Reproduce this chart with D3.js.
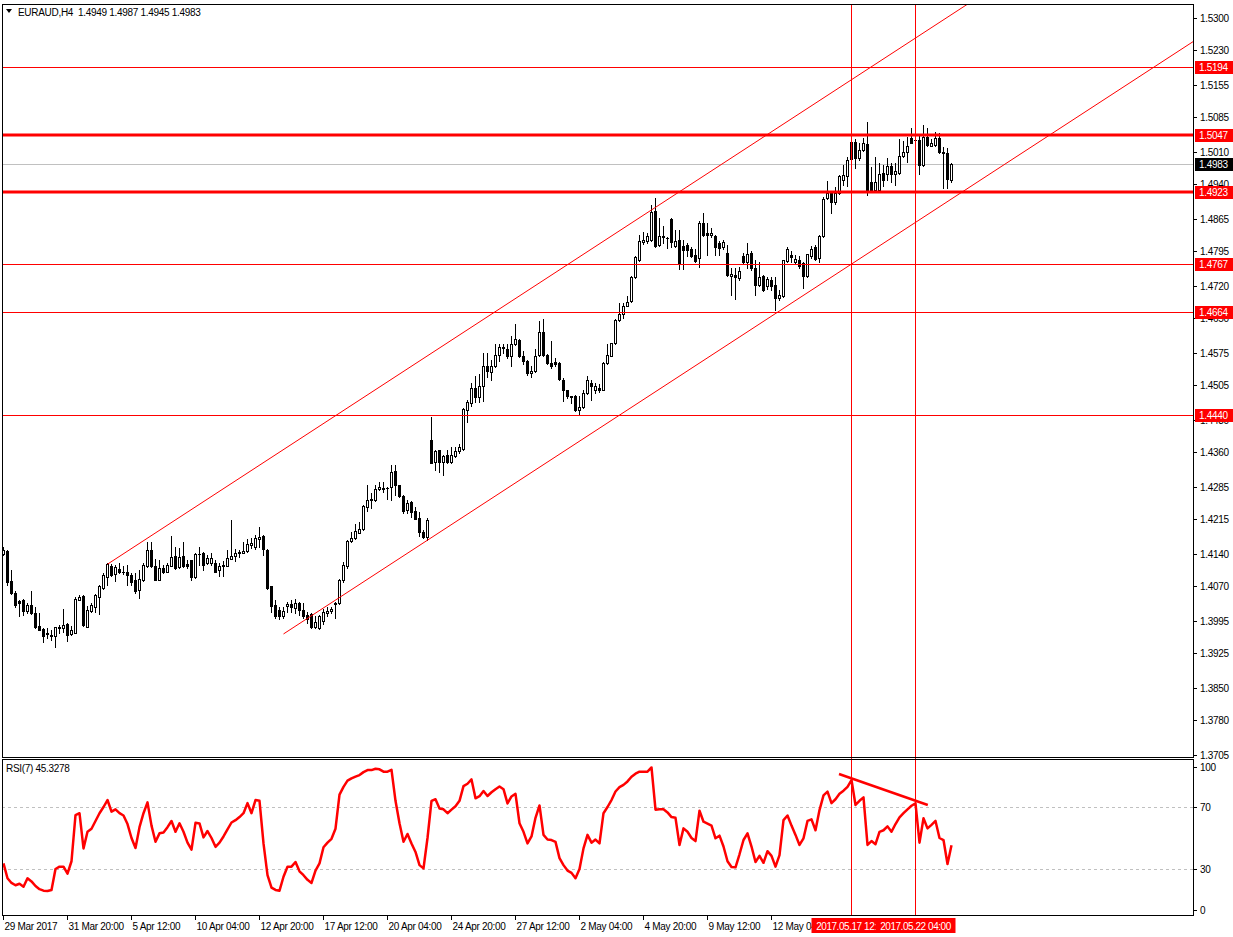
<!DOCTYPE html>
<html><head><meta charset="utf-8">
<script src="https://cdn.jsdelivr.net/npm/d3@7"></script>
<style>
body{margin:0;background:#fff;}
svg{display:block;}
text{font-family:Tahoma,"Liberation Sans",Arial,sans-serif;font-size:10px;white-space:pre;letter-spacing:-0.3px;}
text.tag{letter-spacing:-0.45px;}
</style>
</head><body>
<svg id="c" width="1233" height="937"></svg>
<script>
const symbolTitle = "EURAUD,H4  1.4949 1.4987 1.4945 1.4983";
const rsiTitle = "RSI(7) 45.3278";

const opens = [
1.4140,1.4147,1.4081,1.4055,1.4039,1.4040,1.4016,1.4030,1.4012,1.3985,
1.3977,1.3969,1.3965,1.3962,1.3980,1.3980,1.3989,1.3967,1.3970,1.4041,
1.4050,1.3983,1.4016,1.4025,1.4048,1.4066,1.4091,1.4115,1.4096,1.4108,
1.4100,1.4102,1.4095,1.4084,1.4063,1.4084,1.4113,1.4149,1.4115,1.4084,
1.4109,1.4102,1.4114,1.4136,1.4111,1.4136,1.4119,1.4127,1.4090,1.4139,
1.4143,1.4120,1.4120,1.4121,1.4106,1.4113,1.4115,1.4129,1.4136,1.4142,
1.4143,1.4147,1.4160,1.4155,1.4172,1.4179,1.4149,1.4070,1.4030,1.4019,
1.4005,1.4028,1.4032,1.4023,1.4033,1.4019,1.4008,1.4010,1.3983,1.3979,
1.3994,1.4012,1.4017,1.4035,1.4033,1.4084,1.4113,1.4168,1.4174,1.4186,
1.4194,1.4242,1.4257,1.4257,1.4280,1.4282,1.4282,1.4284,1.4319,1.4289,
1.4265,1.4235,1.4253,1.4233,1.4217,1.4188,1.4176,1.4386,1.4340,1.4365,
1.4340,1.4354,1.4340,1.4353,1.4363,1.4368,1.4451,1.4467,1.4500,1.4480,
1.4503,1.4547,1.4533,1.4546,1.4571,1.4586,1.4583,1.4568,1.4595,1.4604,
1.4569,1.4557,1.4531,1.4535,1.4570,1.4620,1.4570,1.4553,1.4555,1.4553,
1.4517,1.4495,1.4481,1.4482,1.4451,1.4458,1.4488,1.4511,1.4494,1.4499,
1.4495,1.4553,1.4569,1.4596,1.4647,1.4660,1.4677,1.4688,1.4739,1.4777,
1.4815,1.4818,1.4820,1.4883,1.4809,1.4826,1.4823,1.4865,1.4807,1.4820,
1.4807,1.4809,1.4800,1.4787,1.4780,1.4856,1.4834,1.4831,1.4829,1.4814,
1.4804,1.4791,1.4742,1.4744,1.4737,1.4784,1.4771,1.4791,1.4759,1.4723,
1.4742,1.4719,1.4733,1.4723,1.4694,1.4699,1.4775,1.4787,1.4771,1.4777,
1.4769,1.4742,1.4784,1.4804,1.4780,1.4828,1.4910,1.4921,1.4901,1.4921,
1.4950,1.4958,1.4994,1.5031,1.4996,1.5014,1.5027,1.4944,1.4928,1.4928,
1.4964,1.4963,1.4980,1.4963,1.4964,1.5002,1.5011,1.5040,1.5035,1.5036,
1.4982,1.5042,1.5023,1.5025,1.5040,1.5009,1.5007,1.4949];

const highs = [
1.4155,1.4148,1.4106,1.4059,1.4041,1.4042,1.4034,1.4059,1.4025,1.4012,
1.3980,1.3980,1.3976,1.3983,1.3987,1.4021,1.3990,1.3985,1.4047,1.4052,
1.4051,1.4027,1.4034,1.4054,1.4073,1.4099,1.4120,1.4118,1.4117,1.4120,
1.4113,1.4117,1.4099,1.4099,1.4106,1.4120,1.4167,1.4165,1.4129,1.4127,
1.4116,1.4120,1.4178,1.4156,1.4152,1.4165,1.4127,1.4128,1.4143,1.4156,
1.4145,1.4138,1.4142,1.4127,1.4120,1.4124,1.4149,1.4214,1.4150,1.4149,
1.4167,1.4172,1.4174,1.4181,1.4199,1.4181,1.4150,1.4071,1.4041,1.4026,
1.4026,1.4037,1.4041,1.4042,1.4037,1.4033,1.4015,1.4012,1.4005,1.4008,
1.4022,1.4026,1.4026,1.4037,1.4085,1.4123,1.4170,1.4188,1.4205,1.4210,
1.4246,1.4289,1.4271,1.4289,1.4296,1.4296,1.4284,1.4332,1.4332,1.4289,
1.4268,1.4257,1.4255,1.4242,1.4231,1.4193,1.4217,1.4437,1.4366,1.4366,
1.4354,1.4366,1.4372,1.4372,1.4379,1.4455,1.4473,1.4510,1.4525,1.4530,
1.4575,1.4576,1.4560,1.4595,1.4595,1.4595,1.4595,1.4611,1.4638,1.4605,
1.4580,1.4559,1.4546,1.4583,1.4645,1.4649,1.4573,1.4600,1.4564,1.4555,
1.4521,1.4495,1.4481,1.4485,1.4481,1.4495,1.4526,1.4517,1.4511,1.4508,
1.4555,1.4595,1.4596,1.4648,1.4683,1.4683,1.4699,1.4741,1.4784,1.4830,
1.4836,1.4834,1.4896,1.4910,1.4867,1.4850,1.4827,1.4867,1.4841,1.4841,
1.4820,1.4814,1.4805,1.4800,1.4860,1.4878,1.4857,1.4845,1.4831,1.4818,
1.4820,1.4809,1.4759,1.4759,1.4762,1.4791,1.4814,1.4795,1.4777,1.4773,
1.4744,1.4739,1.4739,1.4739,1.4712,1.4777,1.4804,1.4795,1.4787,1.4784,
1.4773,1.4790,1.4807,1.4809,1.4831,1.4912,1.4948,1.4924,1.4934,1.4960,
1.4982,1.4999,1.5038,1.5038,1.5029,1.5040,1.5074,1.4978,1.5000,1.4986,
1.4982,1.4996,1.4986,1.4986,1.5038,1.5033,1.5042,1.5061,1.5043,1.5049,
1.5069,1.5061,1.5038,1.5054,1.5051,1.5020,1.5018,1.4987];

const lows = [
1.4138,1.4073,1.4054,1.4025,1.4005,1.4009,1.4012,1.4011,1.3980,1.3975,
1.3949,1.3958,1.3953,1.3939,1.3969,1.3972,1.3951,1.3965,1.3969,1.4040,
1.3985,1.3982,1.4014,1.4014,1.4011,1.4064,1.4073,1.4093,1.4081,1.4099,
1.4096,1.4073,1.4073,1.4055,1.4045,1.4081,1.4112,1.4112,1.4083,1.4083,
1.4098,1.4100,1.4113,1.4107,1.4109,1.4112,1.4109,1.4084,1.4088,1.4116,
1.4106,1.4118,1.4116,1.4100,1.4093,1.4093,1.4114,1.4129,1.4124,1.4133,
1.4142,1.4145,1.4152,1.4150,1.4156,1.4138,1.4064,1.4015,1.4001,1.3999,
1.4002,1.4015,1.4015,1.4013,1.4008,1.4001,1.3990,1.3979,1.3979,1.3977,
1.3988,1.4006,1.4012,1.4001,1.4032,1.4080,1.4109,1.4167,1.4172,1.4185,
1.4192,1.4234,1.4239,1.4255,1.4278,1.4275,1.4260,1.4257,1.4268,1.4264,
1.4228,1.4228,1.4221,1.4215,1.4179,1.4174,1.4170,1.4336,1.4322,1.4318,
1.4311,1.4337,1.4337,1.4350,1.4359,1.4366,1.4426,1.4460,1.4470,1.4470,
1.4472,1.4524,1.4516,1.4544,1.4557,1.4575,1.4564,1.4546,1.4593,1.4567,
1.4552,1.4528,1.4524,1.4533,1.4568,1.4568,1.4551,1.4542,1.4546,1.4517,
1.4472,1.4477,1.4467,1.4449,1.4441,1.4456,1.4487,1.4474,1.4488,1.4490,
1.4494,1.4552,1.4568,1.4595,1.4645,1.4650,1.4676,1.4686,1.4737,1.4775,
1.4811,1.4813,1.4818,1.4805,1.4807,1.4813,1.4802,1.4805,1.4804,1.4757,
1.4757,1.4784,1.4782,1.4773,1.4762,1.4829,1.4787,1.4827,1.4787,1.4787,
1.4800,1.4741,1.4701,1.4692,1.4733,1.4768,1.4759,1.4755,1.4701,1.4720,
1.4710,1.4713,1.4712,1.4667,1.4690,1.4697,1.4773,1.4773,1.4769,1.4760,
1.4715,1.4740,1.4780,1.4777,1.4771,1.4827,1.4908,1.4879,1.4898,1.4919,
1.4939,1.4937,1.4993,1.4975,1.4993,1.5013,1.4917,1.4927,1.4927,1.4927,
1.4937,1.4950,1.4946,1.4939,1.4963,1.5000,1.4989,1.5029,1.5033,1.4963,
1.4980,1.5023,1.5022,1.5023,1.5007,1.4932,1.4932,1.4945];

const closes = [
1.4148,1.4079,1.4055,1.4030,1.4034,1.4016,1.4030,1.4012,1.3983,1.3976,
1.3963,1.3967,1.3963,1.3982,1.3983,1.3987,1.3964,1.3975,1.4043,1.4047,
1.3987,1.4018,1.4029,1.4052,1.4070,1.4095,1.4118,1.4095,1.4111,1.4100,
1.4100,1.4094,1.4079,1.4060,1.4086,1.4117,1.4149,1.4113,1.4084,1.4109,
1.4101,1.4116,1.4133,1.4109,1.4133,1.4113,1.4114,1.4091,1.4140,1.4141,
1.4116,1.4131,1.4131,1.4102,1.4113,1.4116,1.4131,1.4136,1.4142,1.4145,
1.4147,1.4162,1.4163,1.4174,1.4176,1.4150,1.4066,1.4028,1.4006,1.4006,
1.4017,1.4032,1.4026,1.4035,1.4018,1.4005,1.3999,1.3982,1.3993,1.4005,
1.4014,1.4017,1.4021,1.4032,1.4084,1.4116,1.4169,1.4175,1.4190,1.4194,
1.4244,1.4257,1.4259,1.4280,1.4284,1.4280,1.4283,1.4318,1.4289,1.4265,
1.4234,1.4250,1.4231,1.4216,1.4188,1.4177,1.4213,1.4337,1.4363,1.4340,
1.4352,1.4340,1.4354,1.4363,1.4372,1.4453,1.4469,1.4500,1.4480,1.4503,
1.4546,1.4535,1.4546,1.4571,1.4588,1.4587,1.4568,1.4595,1.4606,1.4568,
1.4557,1.4531,1.4537,1.4569,1.4620,1.4570,1.4553,1.4546,1.4552,1.4518,
1.4495,1.4481,1.4480,1.4451,1.4458,1.4488,1.4516,1.4503,1.4503,1.4495,
1.4553,1.4571,1.4596,1.4647,1.4660,1.4676,1.4686,1.4739,1.4782,1.4818,
1.4820,1.4829,1.4881,1.4807,1.4829,1.4829,1.4824,1.4816,1.4818,1.4768,
1.4798,1.4797,1.4784,1.4775,1.4857,1.4831,1.4831,1.4834,1.4805,1.4802,
1.4816,1.4744,1.4746,1.4739,1.4753,1.4773,1.4790,1.4759,1.4723,1.4739,
1.4712,1.4735,1.4719,1.4694,1.4701,1.4777,1.4800,1.4782,1.4778,1.4764,
1.4742,1.4790,1.4800,1.4778,1.4828,1.4908,1.4922,1.4901,1.4922,1.4957,
1.4960,1.4993,1.5031,1.4996,1.5014,1.5030,1.4928,1.4928,1.4944,1.4963,
1.4950,1.4980,1.4963,1.4968,1.5002,1.5011,1.5023,1.5029,1.5035,1.4982,
1.5042,1.5025,1.5029,1.5040,1.5009,1.5007,1.4951,1.4983];

const rsiValues = [
33.6,24,21,19.5,20.5,18.6,24,22,19,17,
16,15.8,16.5,30,31.5,31.5,27,35,64.8,66,
43.3,54,56,61,66,70,74.5,67,68.5,66,
64.5,59,50,43.5,57,66,73,58,47.6,53,
53.5,57,61,54,59.5,54,47,42.5,59.8,59.4,
50.4,54.5,50,44.3,47,51,55.5,60,61.5,63.5,
66,72.5,66,74.5,74,46.5,26,18,16.5,16,
25,31.5,31.5,34.5,28.5,26,23,21,29,33.6,
44,47,49.5,56,78,83,87,88.5,89.6,90.6,
92.5,93.8,93.8,94.7,94.3,92.8,92.8,94,74,59.5,
47.6,52.6,46.5,41,32.5,30.4,50,74,75,69,
68.5,66,68.3,70.5,74,83.5,85,87.8,75.6,77,
80.3,77.1,79.5,81.5,83.2,81.5,72.3,76.8,78.5,59.5,
54,46.5,51,63,71,52,49,48.7,47.5,37,
32.5,29,27.5,24,30,43.3,52,47,49,46.5,
66,70,74.5,80,82.8,84.3,86.5,89.5,91.5,92.8,
92.8,92.8,95.5,68.3,68.5,68.5,66.5,63.5,63,45.5,
56.2,54,50,48,67.6,60.5,59.3,58,49.8,51.5,
44.5,35,31.3,31.1,39.5,48.7,53,44.5,34.5,38.5,
34,41.5,38.5,31.5,39,61.5,64.5,58,52,45.5,
49.8,61,62,55,68,77.5,79.9,72.5,75,78.5,
80.5,83,87.4,71.3,74,76.2,45.5,48,46,54,
55,57.5,54,59,63.3,66,68.5,70.8,72.4,47,
62.7,56.2,58.5,61,50,48.7,33.2,45.3];

const priceTickValues = [1.5300,1.5230,1.5155,1.5085,1.5010,1.4940,1.4865,1.4795,1.4720,1.4650,1.4575,1.4505,1.4430,1.4360,1.4285,1.4215,1.4140,1.4070,1.3995,1.3925,1.3850,1.3780,1.3705];
const rsiTickValues = [100,70,30,0];
const rsiLevels = [70,30];
const timeTickBars = [0,16,32,48,64,80,96,112,128,144,160,176,192];
const timeTickLabels = ["29 Mar 2017","31 Mar 20:00","5 Apr 12:00","10 Apr 04:00","12 Apr 20:00","17 Apr 12:00","20 Apr 04:00","24 Apr 20:00","27 Apr 12:00","2 May 04:00","4 May 20:00","9 May 12:00","12 May 04:00"];

const levelPrices = [1.5194,1.5047,1.4923,1.4767,1.4664,1.4440];
const thickLevels = [1.5047,1.4923];
const lastPrice = 1.4983;
const vlineBars = [212,228];
const vlineLabels = ["2017.05.17 12:00","2017.05.22 04:00"];
const upperChannel = [{bar:26,price:1.4118},{bar:160,price:1.4873}];
const lowerChannel = [{bar:70,price:1.3967},{bar:193,price:1.4660}];
const rsiTrend = [{bar:209,value:91.3},{bar:231.2,value:71.3}];

// ---------- layout ----------
const W=1233,H=937;
const plotL=2, plotR=1193, mainT=4, mainB=757, rsiT=759, rsiB=915;
const RED="#ff0000";

const svg=d3.select("#c");
svg.append("rect").attr("width",W).attr("height",H).attr("fill","#fff");

const x=d3.scaleLinear().domain([0,1]).range([3,7]);
const y=d3.scaleLinear().domain([1.3705,1.5300]).range([755,18]);
const yr=d3.scaleLinear().domain([0,100]).range([915.5,760.5]);

const defs=svg.append("defs");
defs.append("clipPath").attr("id","mclip").append("rect")
  .attr("x",plotL+1).attr("y",mainT+1).attr("width",plotR-plotL-1).attr("height",mainB-mainT-1);
defs.append("clipPath").attr("id","rclip").append("rect")
  .attr("x",plotL+1).attr("y",rsiT+1).attr("width",plotR-plotL-1).attr("height",rsiB-rsiT-1);

const main=svg.append("g").attr("clip-path","url(#mclip)");
const rsiG=svg.append("g").attr("clip-path","url(#rclip)");

main.append("line").attr("x1",plotL).attr("x2",plotR)
  .attr("y1",Math.round(y(lastPrice))+0.5).attr("y2",Math.round(y(lastPrice))+0.5)
  .attr("stroke","#c0c0c0").attr("stroke-width",1);

const cg=main.append("g").attr("shape-rendering","crispEdges");
opens.forEach((o,i)=>{
  const h=highs[i], l=lows[i], c=closes[i];
  const col=Math.round(x(i));
  const yh=Math.round(y(h)), yl=Math.round(y(l));
  const yt=Math.round(y(Math.max(o,c))), yb=Math.round(y(Math.min(o,c)));
  cg.append("line").attr("x1",col+0.5).attr("x2",col+0.5).attr("y1",yh).attr("y2",yl+1)
    .attr("stroke","#000").attr("stroke-width",1);
  if (yb-yt<1){
    cg.append("rect").attr("x",col-1).attr("y",yt).attr("width",3).attr("height",1).attr("fill","#000");
  } else if (c>=o){
    cg.append("rect").attr("x",col-0.5).attr("y",yt+0.5).attr("width",2).attr("height",yb-yt)
      .attr("fill","#fff").attr("stroke","#000").attr("stroke-width",1);
  } else {
    cg.append("rect").attr("x",col-1).attr("y",yt).attr("width",3).attr("height",yb-yt+1).attr("fill","#000");
  }
});

levelPrices.forEach(p=>{
  const thick=thickLevels.includes(p);
  const yy=Math.round(y(p));
  main.append("line").attr("x1",plotL).attr("x2",plotR)
    .attr("y1",thick?yy:yy+0.5).attr("y2",thick?yy:yy+0.5)
    .attr("stroke",RED).attr("stroke-width",thick?3:1);
});

function ray(pts){
  const [a,b]=pts;
  const barR=x.invert(plotR);
  const pR=a.price+(b.price-a.price)/(b.bar-a.bar)*(barR-a.bar);
  main.append("line").attr("x1",x(a.bar)+0.5).attr("y1",y(a.price))
    .attr("x2",plotR).attr("y2",y(pR)).attr("stroke",RED).attr("stroke-width",1);
}
ray(upperChannel); ray(lowerChannel);

vlineBars.forEach(b=>{
  svg.append("line").attr("x1",Math.round(x(b))+0.5).attr("x2",Math.round(x(b))+0.5)
    .attr("y1",mainT).attr("y2",rsiB).attr("stroke",RED).attr("stroke-width",1);
});

rsiLevels.forEach(v=>{
  rsiG.append("line").attr("x1",plotL).attr("x2",plotR)
    .attr("y1",Math.round(yr(v))+0.5).attr("y2",Math.round(yr(v))+0.5)
    .attr("stroke","#c0c0c0").attr("stroke-dasharray","3,3");
});
rsiG.append("path").datum(rsiValues)
  .attr("d",d3.line().x((d,i)=>x(i)+0.5).y(d=>yr(d)))
  .attr("fill","none").attr("stroke",RED).attr("stroke-width",2.5).attr("stroke-linejoin","round");
rsiG.append("line").attr("x1",x(rsiTrend[0].bar)).attr("y1",yr(rsiTrend[0].value))
  .attr("x2",x(rsiTrend[1].bar)).attr("y2",yr(rsiTrend[1].value))
  .attr("stroke",RED).attr("stroke-width",2.5);

const fr=svg.append("g").attr("shape-rendering","crispEdges").attr("stroke","#000").attr("fill","none");
fr.append("rect").attr("x",plotL+0.5).attr("y",mainT+0.5).attr("width",plotR-plotL).attr("height",mainB-mainT);
fr.append("rect").attr("x",plotL+0.5).attr("y",rsiT+0.5).attr("width",plotR-plotL).attr("height",rsiB-rsiT);

const pa=svg.append("g");
priceTickValues.forEach(v=>{
  const yy=Math.round(y(v));
  pa.append("line").attr("x1",plotR).attr("x2",plotR+4).attr("y1",yy+0.5).attr("y2",yy+0.5).attr("stroke","#000");
  pa.append("text").attr("x",plotR+7).attr("y",yy+4).text(v.toFixed(4));
});
function priceTag(p,bg){
  const yy=Math.round(y(p));
  pa.append("rect").attr("x",plotR+2).attr("y",yy-6).attr("width",W-plotR-2).attr("height",13).attr("fill",bg);
  pa.append("text").attr("x",plotR+6).attr("y",yy+4).attr("fill","#fff").text(p.toFixed(4));
}
levelPrices.forEach(p=>priceTag(p,RED));
priceTag(lastPrice,"#000");

rsiTickValues.forEach(v=>{
  const yy=Math.max(rsiT+8,Math.min(rsiB-5,yr(v)));
  svg.append("line").attr("x1",plotR).attr("x2",plotR+4).attr("y1",Math.round(yy)+0.5).attr("y2",Math.round(yy)+0.5).attr("stroke","#000");
  svg.append("text").attr("x",plotR+7).attr("y",yy+4).text(v);
});

timeTickBars.forEach((b,i)=>{
  const xx=Math.round(x(b))+0.5;
  svg.append("line").attr("x1",xx).attr("x2",xx).attr("y1",rsiB).attr("y2",rsiB+5).attr("stroke","#000");
  svg.append("text").attr("x",xx+1).attr("y",rsiB+15).text(timeTickLabels[i]);
});
vlineBars.forEach((b,i)=>{
  const xx=Math.round(x(b))+0.5;
  svg.append("rect").attr("x",xx-40).attr("y",rsiB+3).attr("width",80).attr("height",15).attr("fill",RED);
  svg.append("text").attr("class","tag").attr("x",xx).attr("y",rsiB+15).attr("text-anchor","middle").attr("fill","#fff").text(vlineLabels[i]);
});

svg.append("path").attr("d","M6,9 L12,9 L9,13 Z").attr("fill","#000");
svg.append("text").attr("x",18).attr("y",16).text(symbolTitle);
svg.append("text").attr("x",6).attr("y",772).text(rsiTitle);
</script>
</body></html>
